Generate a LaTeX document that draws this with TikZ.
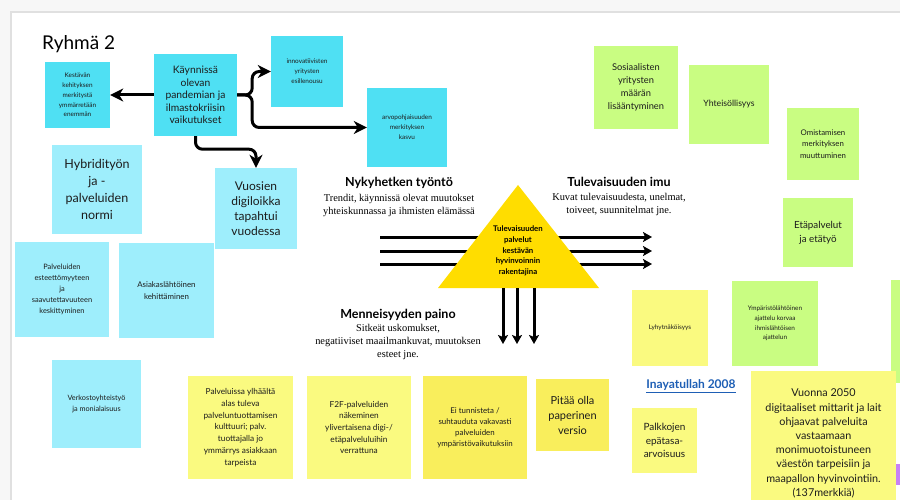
\documentclass[tikz,border=0pt]{standalone}
\usepackage{fontspec}
\setmainfont{Lato}
\newfontfamily\notesans{Lato}
\newfontfamily\noteserif{Liberation Serif}
\usetikzlibrary{arrows.meta}
\definecolor{cyandark}{HTML}{4FE0F3}
\definecolor{cyanlight}{HTML}{9EEEFC}
\definecolor{greennote}{HTML}{C9FD82}
\definecolor{yellownote}{HTML}{FAFA80}
\definecolor{yellowdeep}{HTML}{F9EE5C}
\definecolor{trianglefill}{HTML}{FFDD00}
\definecolor{purplenote}{HTML}{C781F5}
\definecolor{linkblue}{HTML}{1E5FB5}
\definecolor{inktext}{HTML}{1C1C1C}
\newcommand{\notesize}[2]{\fontsize{#1}{#2}\selectfont}
\tikzset{
    sticky/.style={align=center, inner sep=1pt, text=inktext},
    conn/.style={line width=3pt, -{Stealth[length=13pt,width=13pt,inset=4pt]}},
    flow/.style={line width=3pt, -{Stealth[length=9pt,width=10pt,inset=2pt]}},
    heading/.style={font=\notesans\bfseries\notesize{12.5}{14}, inner sep=0pt},
    subtext/.style={font=\noteserif\notesize{10.4}{12.8}, align=center, inner sep=0pt}
}
\begin{document}
\begin{tikzpicture}[x=1pt, y=-1pt]
    \useasboundingbox (0,0) rectangle (900,500);
    % canvas
    \fill[black!3] (0,0) rectangle (900,500);
    \fill[white] (11,12) rectangle (900,500);
    \draw[black!12, line width=1.5pt] (11,500) -- (11,12) -- (900,12);

    \node[font=\notesize{19}{20}, inner sep=0pt, anchor=west] (title) at (42,44) {Ryhmä 2};

    % dark cyan notes
    \begin{scope}[every node/.style={sticky, fill=cyandark}]
        \node[minimum width=65, minimum height=66, font=\notesize{6.4}{9.8}] (kestavan) at (77.5,95) {Kestävän\\kehityksen\\merkitystä\\ymmärretään\\enemmän};
        \node[minimum width=83, minimum height=82, font=\notesize{10.3}{12.5}] (kaynnissa) at (195.5,95) {Käynnissä\\olevan\\pandemian ja\\ilmastokriisin\\vaikutukset};
        \node[minimum width=72, minimum height=71, font=\notesize{6.4}{10}] (innov) at (307,71.5) {innovatiivisten\\yritysten\\esillenousu};
        \node[minimum width=80, minimum height=79, font=\notesize{6.4}{10}] (arvo) at (407,127.5) {arvopohjaisuuden\\merkityksen\\kasvu};
    \end{scope}

    % light cyan notes
    \begin{scope}[every node/.style={sticky, fill=cyanlight}]
        \node[minimum width=82, minimum height=81, font=\notesize{12}{15}] (vuosien) at (256,208.5) {Vuosien\\digiloikka\\tapahtui\\vuodessa};
        \node[minimum width=90, minimum height=89, font=\notesize{12.5}{17}] (hybrid) at (97,189.5) {Hybridityön\\ja -\\palveluiden\\normi};
        \node[minimum width=94, minimum height=95, font=\notesize{7.4}{11}] (esteet) at (62,289.5) {Palveluiden\\esteettömyyteen\\ja\\saavutettavuuteen\\keskittyminen};
        \node[minimum width=95, minimum height=95, font=\notesize{7.9}{12}] (asiakas) at (166.5,290.5) {Asiakaslähtöinen\\kehittäminen};
        \node[minimum width=89, minimum height=88, font=\notesize{7.3}{10.3}] (verkosto) at (96.5,404) {Verkostoyhteistyö\\ja monialaisuus};
    \end{scope}

    % green notes
    \fill[greennote] (891,280) rectangle (900,383);
    \begin{scope}[every node/.style={sticky, fill=greennote}]
        \node[minimum width=84, minimum height=83, font=\notesize{9.3}{13}] (sosiaal) at (636,87.5) {Sosiaalisten\\yritysten\\määrän\\lisääntyminen};
        \node[minimum width=80, minimum height=79, font=\notesize{8.7}{12}] (yhteis) at (729,104.5) {Yhteisöllisyys};
        \node[minimum width=72, minimum height=72, font=\notesize{7.8}{11.5}] (omist) at (823,144) {Omistamisen\\merkityksen\\muuttuminen};
        \node[minimum width=70, minimum height=69, font=\notesize{9.8}{14}] (etap) at (818,232.5) {Etäpalvelut\\ja etätyö};
        \node[minimum width=86, minimum height=85, font=\notesize{6.4}{9.7}] (ymparisto) at (775,323.5) {Ympäristölähtöinen\\ajattelu korvaa\\ihmislähtöisen\\ajattelun};
    \end{scope}

    % yellow notes
    \fill[purplenote] (893,464) rectangle (900,485);
    \begin{scope}[every node/.style={sticky, fill=yellownote}]
        \node[minimum width=105, minimum height=103, font=\notesize{8.3}{11.8}] (ylhaalta) at (240.5,427.5) {Palveluissa ylhäältä\\alas tuleva\\palveluntuottamisen\\kulttuuri; palv.\\tuottajalla jo\\ymmärrys asiakkaan\\tarpeista};
        \node[minimum width=104, minimum height=103, font=\notesize{8.3}{11.7}] (ftf) at (359,427.5) {F2F-palveluiden\\näkeminen\\ylivertaisena digi-/\\etäpalveluluihin\\verrattuna};
        \node[minimum width=76, minimum height=76, font=\notesize{6.4}{9.7}] (lyhyt) at (670,328) {Lyhytnäköisyys};
        \node[minimum width=65, minimum height=65, font=\notesize{10}{13.5}] (palkka) at (664.5,440.5) {Palkkojen\\epätasa-\\arvoisuus};
        \node[minimum width=145, minimum height=145, font=\notesize{10.8}{14.2}] (vuonna) at (823.5,443.5) {Vuonna 2050\\digitaaliset mittarit ja lait\\ohjaavat palveluita\\vastaamaan\\monimuotoistuneen\\väestön tarpeisiin ja\\maapallon hyvinvointiin.\\(137merkkiä)};
    \end{scope}
    \begin{scope}[every node/.style={sticky, fill=yellowdeep}]
        \node[minimum width=104, minimum height=103, font=\notesize{7.9}{11}] (eitunn) at (475,427.5) {Ei tunnisteta /\\suhtauduta vakavasti\\palveluiden\\ympäristövaikutuksiin};
        \node[minimum width=73, minimum height=72, font=\notesize{11}{15}] (paperi) at (572.5,415) {Pitää olla\\paperinen\\versio};
    \end{scope}

    \node[font=\bfseries\notesize{12}{13}, text=linkblue, inner sep=0pt] (inayatullah) at (691,386) {\underline{Inayatullah 2008}};

    % connectors from the pandemic note
    \draw[conn] (kaynnissa.west) -- (kestavan.east);
    \draw[conn, rounded corners=7pt] (kaynnissa.east) -- ++(15,0) |- (innov.west);
    \draw[conn, rounded corners=7pt] (kaynnissa.east) -- ++(15,0) |- (arvo.west);
    \draw[conn, rounded corners=7pt] (kaynnissa.south) -- ++(0,13) -| (vuosien.north);

    % futures triangle
    \foreach \y [count=\i] in {237,251,264} {
        \coordinate (pushstart\i) at (380,\y);
        \coordinate (pushend\i) at (652,\y);
        \draw[flow] (pushstart\i) -- (pushend\i);
    }
    \coordinate (apex) at (518,185);
    \coordinate (baseleft) at (438,288);
    \coordinate (baseright) at (599,288);
    \fill[trianglefill] (apex) -- (baseleft) -- (baseright) -- cycle;
    \node[font=\bfseries\notesize{7.8}{10.8}, align=center, inner sep=0pt] (trianglelabel) at (518,251) {Tulevaisuuden\\palvelut\\kestävän\\hyvinvoinnin\\rakentajina};
    \foreach \x [count=\i] in {503,517,534} {
        \coordinate (weighttop\i) at (\x,288);
        \coordinate (weightend\i) at (\x,344);
        \draw[flow] (weighttop\i) -- (weightend\i);
    }

    \node[heading] (pushhead) at (399,183) {Nykyhetken työntö};
    \node[subtext] (pushtext) at (399,205.5) {Trendit, käynnissä olevat muutokset\\yhteiskunnassa ja ihmisten elämässä};
    \node[heading] (pullhead) at (619,182) {Tulevaisuuden imu};
    \node[subtext] (pulltext) at (619,204.5) {Kuvat tulevaisuudesta, unelmat,\\toiveet, suunnitelmat jne.};
    \node[heading] (weighthead) at (398,315) {Menneisyyden paino};
    \node[subtext] (weighttext) at (398,342) {Sitkeät uskomukset,\\negatiiviset maailmankuvat, muutoksen\\esteet jne.};
\end{tikzpicture}
\end{document}
